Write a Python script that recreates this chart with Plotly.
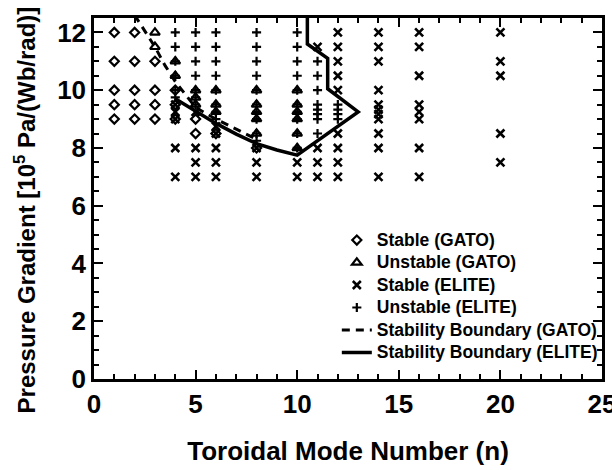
import plotly.graph_objects as go

# ---- data ----
stable_gato_n = [1, 1, 1, 1, 1, 2, 2, 2, 2, 2, 3, 3, 3, 3, 4, 4, 4, 5, 5, 6, 8]
stable_gato_p = [12, 11, 10, 9.5, 9, 12, 11, 10, 9.5, 9, 11, 10, 9.5, 9, 10, 9.5, 9, 9, 8.5, 8.5, 8]

unstable_gato_n = [3, 3, 4, 4, 5, 5, 5, 6, 6, 6, 8, 8, 8, 8, 8, 10, 10, 10, 10, 10, 10]
unstable_gato_p = [12, 11.5, 11, 10.5, 10, 9.75, 9.5, 10, 9.5, 9.25, 10, 9.5, 9.25, 9, 8.5,
                   10, 9.5, 9.25, 9, 8.5, 8]

stable_elite_n = [4, 4, 4, 4, 4,
                  5, 5, 5, 5,
                  6, 6, 6, 6, 6,
                  8, 8, 8,
                  10, 10,
                  11, 11, 11, 11,
                  12, 12, 12, 12, 12, 12, 12, 12, 12,
                  14, 14, 14, 14, 14, 14, 14, 14, 14, 14, 14,
                  16, 16, 16, 16, 16, 16, 16, 16,
                  20, 20, 20, 20, 20]
stable_elite_p = [9.5, 9.25, 9, 8, 7,
                  9.25, 8, 7.5, 7,
                  8.75, 8.5, 8, 7.5, 7,
                  8, 7.5, 7,
                  7.5, 7,
                  11.5, 8, 7.5, 7,
                  12, 11.5, 11, 10.5, 10, 8.5, 8, 7.5, 7,
                  12, 11.5, 11, 10, 9.5, 9.33, 9.17, 9, 8.5, 8, 7,
                  12, 11.5, 10.5, 9.5, 9.25, 9, 8, 7,
                  12, 11, 10.5, 8.5, 7.5]

unstable_elite_n = [4, 4, 4, 4, 4, 4,
                    5, 5, 5, 5, 5, 5, 5,
                    6, 6, 6, 6, 6, 6, 6, 6,
                    8, 8, 8, 8, 8, 8, 8, 8, 8, 8,
                    10, 10, 10, 10, 10, 10, 10, 10, 10, 10,
                    11, 11, 11, 11, 11, 11, 11, 11,
                    12, 12, 12, 12]
unstable_elite_p = [12, 11.5, 11, 10.5, 10, 9.75,
                    12, 11.5, 11, 10.5, 10, 9.75, 9.5,
                    12, 11.5, 11, 10.5, 10, 9.5, 9.25, 9,
                    12, 11.5, 11, 10.5, 10, 9.5, 9.25, 9, 8.5, 8.25,
                    12, 11.5, 11, 10.5, 10, 9.5, 9.25, 9, 8.5, 8,
                    11, 10.5, 10, 9.5, 9.33, 9.17, 9, 8.5,
                    9.5, 9.33, 9.17, 9]

gato_boundary_n = [2.0, 3, 3.5, 4, 5, 6, 7, 8]
gato_boundary_p = [12.6, 11.5, 10.85, 10.3, 9.4, 9.0, 8.65, 8.3]

elite_boundary_n = [4, 5, 6, 7, 8, 9, 10, 13, 11.5, 11.5, 10.5, 10.5]
elite_boundary_p = [9.7, 9.27, 8.85, 8.48, 8.15, 7.93, 7.75, 9.25, 10.05, 11.1, 11.6, 12.6]

x_ticks = [0, 5, 10, 15, 20, 25]
y_ticks = [0, 2, 4, 6, 8, 10, 12]

FONT = "Liberation Sans, Arial, Helvetica, sans-serif"


def lg(txt):
    return '<span style="font-size:17.5px">' + txt + '</span>'


fig = go.Figure()
fig.add_trace(go.Scatter(x=stable_gato_n, y=stable_gato_p, mode="markers", name=lg("Stable (GATO)"),
                         marker=dict(symbol="diamond-open", size=7, color="black",
                                     line=dict(width=2.2, color="black"))))
fig.add_trace(go.Scatter(x=unstable_gato_n, y=unstable_gato_p, mode="markers", name=lg("Unstable (GATO)"),
                         marker=dict(symbol="triangle-up-open", size=8.5, color="black",
                                     line=dict(width=2.2, color="black"))))
fig.add_trace(go.Scatter(x=stable_elite_n, y=stable_elite_p, mode="markers", name=lg("Stable (ELITE)"),
                         marker=dict(symbol="x-thin", size=8, color="black",
                                     line=dict(width=2.6, color="black"))))
fig.add_trace(go.Scatter(x=unstable_elite_n, y=unstable_elite_p, mode="markers", name=lg("Unstable (ELITE)"),
                         marker=dict(symbol="cross-thin", size=6.5, color="black",
                                     line=dict(width=2.2, color="black"))))
fig.add_trace(go.Scatter(x=gato_boundary_n, y=gato_boundary_p, mode="lines",
                         name=lg("Stability Boundary (GATO)"),
                         line=dict(color="black", width=3, dash="8px,6px")))
fig.add_trace(go.Scatter(x=elite_boundary_n, y=elite_boundary_p, mode="lines",
                         name=lg("Stability Boundary (ELITE)"),
                         line=dict(color="black", width=3.5)))

axis_common = dict(
    showline=True, linewidth=2.5, linecolor="black", mirror="allticks",
    ticks="inside", ticklen=9, tickwidth=2, tickcolor="black",
    showgrid=False, zeroline=False,
    tickfont=dict(family=FONT, size=26, color="black", weight="bold"),
)

fig.update_xaxes(range=[0, 25], tickvals=x_ticks, ticktext=[str(v) for v in x_ticks],
                 ticklabeloverflow="allow",
                 minor=dict(dtick=1, ticks="inside", ticklen=5, tickwidth=2, tickcolor="black"),
                 title=dict(text="Toroidal Mode Number (n)", standoff=24,
                            font=dict(family=FONT, size=26, color="black", weight="bold")),
                 **axis_common)
fig.update_yaxes(range=[0, 12.5], tickvals=y_ticks, ticktext=[str(v) for v in y_ticks],
                 ticklabeloverflow="allow",
                 minor=dict(dtick=0.5, ticks="inside", ticklen=5, tickwidth=2, tickcolor="black"),
                 **axis_common)

# y-axis title as a rotated text placed like the reference
fig.add_annotation(text="Pressure Gradient [10<sup>5</sup> Pa/(Wb/rad)]",
                   xref="paper", yref="paper", x=-0.135, y=0.468,
                   xanchor="center", yanchor="middle", textangle=-90, showarrow=False,
                   font=dict(family=FONT, size=24, color="black", weight="bold"))

fig.update_layout(
    width=612, height=470,
    margin=dict(l=94, r=10, t=18, b=91, autoexpand=False),
    paper_bgcolor="white", plot_bgcolor="white",
    showlegend=True,
    legend=dict(x=0.478, y=0.43, xanchor="left", yanchor="top",
                bgcolor="rgba(0,0,0,0)", borderwidth=0,
                font=dict(family=FONT, size=15, color="black", weight="bold"),
                itemwidth=30, tracegroupgap=0),
)

fig.write_html("out.html")
